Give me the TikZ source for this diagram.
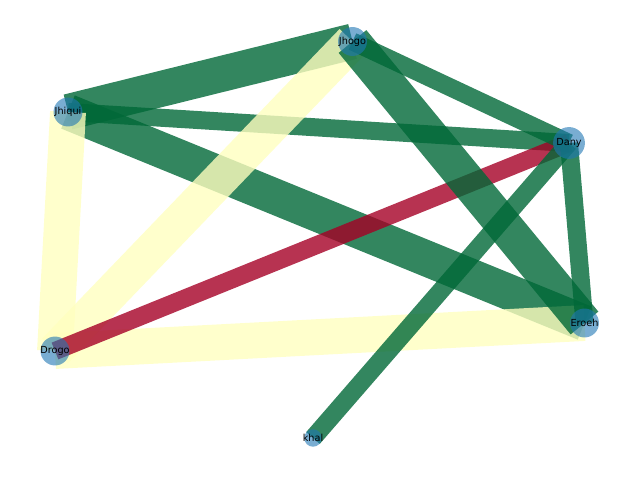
\documentclass[tikz,border=0pt]{standalone}
\usepackage{fontspec}
\setmainfont{DejaVu Sans}
\definecolor{eg}{RGB}{0,104,55}
\definecolor{ey}{RGB}{255,255,191}
\definecolor{er}{RGB}{165,0,38}
\definecolor{nb}{RGB}{31,119,180}
\begin{document}
\begin{tikzpicture}[x=0.01in,y=-0.01in,
  thick edge/.style={line width=25.9pt, draw opacity=0.8, line cap=butt},
  thin edge/.style={line width=13pt, draw opacity=0.8, line cap=butt},
  nd/.style={circle, fill=nb, fill opacity=0.6, draw=none, inner sep=0pt, minimum size=#1},
  lbl/.style={font=\fontsize{7}{8}\selectfont, text=black, inner sep=0pt}]
\useasboundingbox (0,0) rectangle (640,480);
% node positions
\coordinate (pJhogo) at (352.5,41.5);
\coordinate (pJhiqui) at (68,112);
\coordinate (pDany) at (569,143);
\coordinate (pEroeh) at (584.5,323);
\coordinate (pDrogo) at (55,351);
\coordinate (pkhal) at (313,438);
% edges
\draw[thick edge, eg] (pJhiqui) -- (pJhogo);
\draw[thin edge, eg] (pJhiqui) -- (pDany);
\draw[thick edge, eg] (pJhiqui) -- (pEroeh);
\draw[thick edge, ey] (pJhiqui) -- (pDrogo);
\draw[thick edge, ey] (pJhogo) -- (pDrogo);
\draw[thick edge, ey] (pDrogo) -- (pEroeh);
\draw[thin edge, er] (pDany) -- (pDrogo);
\draw[thin edge, eg] (pJhogo) -- (pDany);
\draw[thick edge, eg] (pJhogo) -- (pEroeh);
\draw[thin edge, eg] (pDany) -- (pEroeh);
\draw[thin edge, eg] (pDany) -- (pkhal);
% nodes
\node[nd=20.9pt] (Jhogo) at (pJhogo) {};
\node[nd=20.9pt] (Jhiqui) at (pJhiqui) {};
\node[nd=23pt] (Dany) at (pDany) {};
\node[nd=20.9pt] (Eroeh) at (pEroeh) {};
\node[nd=20.9pt] (Drogo) at (pDrogo) {};
\node[nd=12.6pt] (khal) at (pkhal) {};
% labels
\node[lbl] (tJhogo) at (Jhogo) {Jhogo};
\node[lbl] (tJhiqui) at (Jhiqui) {Jhiqui};
\node[lbl] (tDany) at (Dany) {Dany};
\node[lbl] (tEroeh) at (Eroeh) {Eroeh};
\node[lbl] (tDrogo) at (Drogo) {Drogo};
\node[lbl] (tkhal) at (khal) {khal};
\end{tikzpicture}
\end{document}
